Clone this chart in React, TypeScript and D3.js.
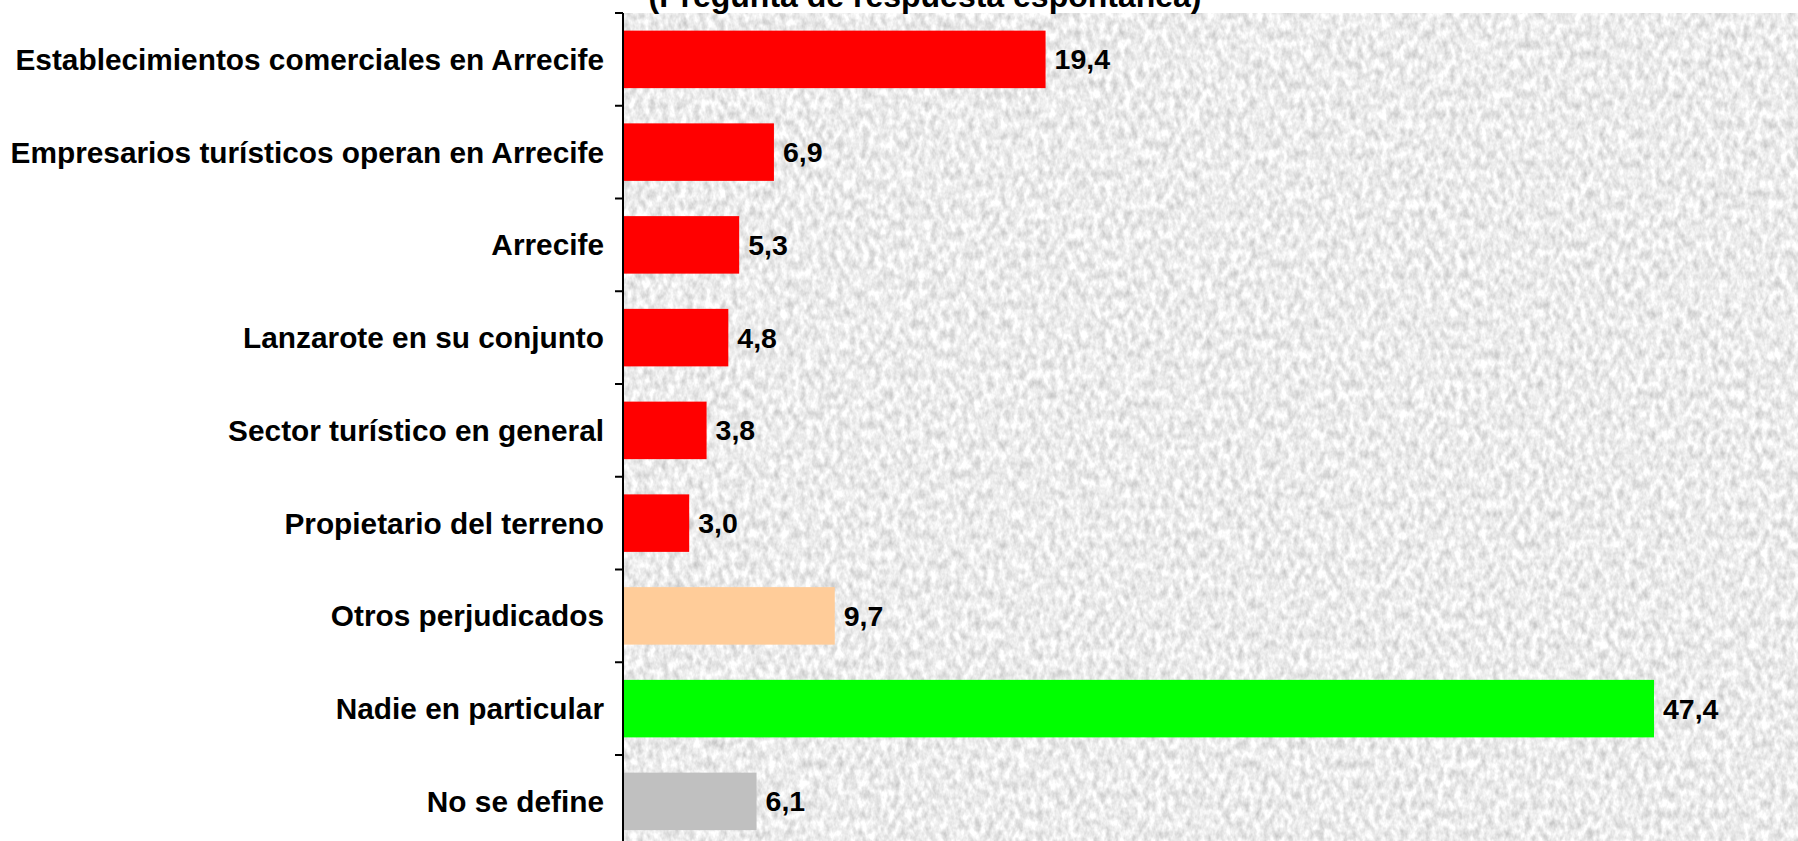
import React from "react";
import * as d3 from "d3";

const categories = [
  "Establecimientos comerciales en Arrecife",
  "Empresarios turísticos operan en Arrecife",
  "Arrecife",
  "Lanzarote en su conjunto",
  "Sector turístico en general",
  "Propietario del terreno",
  "Otros perjudicados",
  "Nadie en particular",
  "No se define",
];
const values = [19.4, 6.9, 5.3, 4.8, 3.8, 3.0, 9.7, 47.4, 6.1];
const barColors = [
  "#FF0000", "#FF0000", "#FF0000", "#FF0000", "#FF0000", "#FF0000",
  "#FFCC99", "#00FF00", "#C0C0C0",
];
const title = "(Pregunta de respuesta espontánea)";

const W = 1798;
const H = 841;
const axisX = 623;
const plotTop = 13;
const step = 92.75;

export default function App() {
  const x = d3.scaleLinear().domain([0, 54]).range([axisX + 1, axisX + 1 + 54 * 21.73]);
  const y = d3
    .scaleBand<string>()
    .domain(categories)
    .range([plotTop, plotTop + step * categories.length])
    .paddingInner(0.38)
    .paddingOuter(0.19);
  const font = "'Liberation Sans', Arial, Helvetica, sans-serif";
  const tickYs = categories.map((_, i) => plotTop + i * y.step());
  tickYs.push(plotTop + categories.length * y.step());

  return (
    <svg
      width={W}
      height={H}
      style={{ position: "absolute", left: 0, top: 0, background: "#fff" }}
      fontFamily={font}
    >
      <defs>
        <filter id="granite" x="0" y="0" width="100%" height="100%" colorInterpolationFilters="sRGB">
          <feTurbulence type="fractalNoise" baseFrequency="0.16 0.1" numOctaves={3} seed={7} result="n" />
          <feColorMatrix
            in="n"
            type="matrix"
            values="0.36 0 0 0 0.745  0.36 0 0 0 0.745  0.36 0 0 0 0.745  0 0 0 0 1"
          />
        </filter>
      </defs>
      <rect x={axisX} y={plotTop} width={W - axisX} height={H - plotTop} fill="#ececec" filter="url(#granite)" />
      <text
        x={925}
        y={7}
        textAnchor="middle"
        fontSize={32}
        fontWeight="bold"
        fill="#000"
      >
        {title}
      </text>
      {categories.map((c, i) => (
        <g key={c}>
          <rect
            x={x(0)}
            y={y(c)!}
            width={x(values[i]) - x(0)}
            height={y.bandwidth()}
            fill={barColors[i]}
          />
          <text
            x={x(values[i]) + 9}
            y={y(c)! + y.bandwidth() / 2}
            dy="0.35em"
            fontSize={28.5}
            fontWeight="bold"
            fill="#000"
          >
            {d3.format(".1f")(values[i]).replace(".", ",")}
          </text>
          <text
            x={604}
            y={y(c)! + y.bandwidth() / 2}
            dy="0.35em"
            textAnchor="end"
            fontSize={29.8}
            fontWeight="bold"
            fill="#000"
          >
            {c}
          </text>
        </g>
      ))}
      <line x1={axisX} x2={axisX} y1={plotTop} y2={H} stroke="#000" strokeWidth={2} />
      {tickYs.map((t, i) => (
        <line key={i} x1={axisX - 8} x2={axisX} y1={t} y2={t} stroke="#000" strokeWidth={2} />
      ))}
    </svg>
  );
}
